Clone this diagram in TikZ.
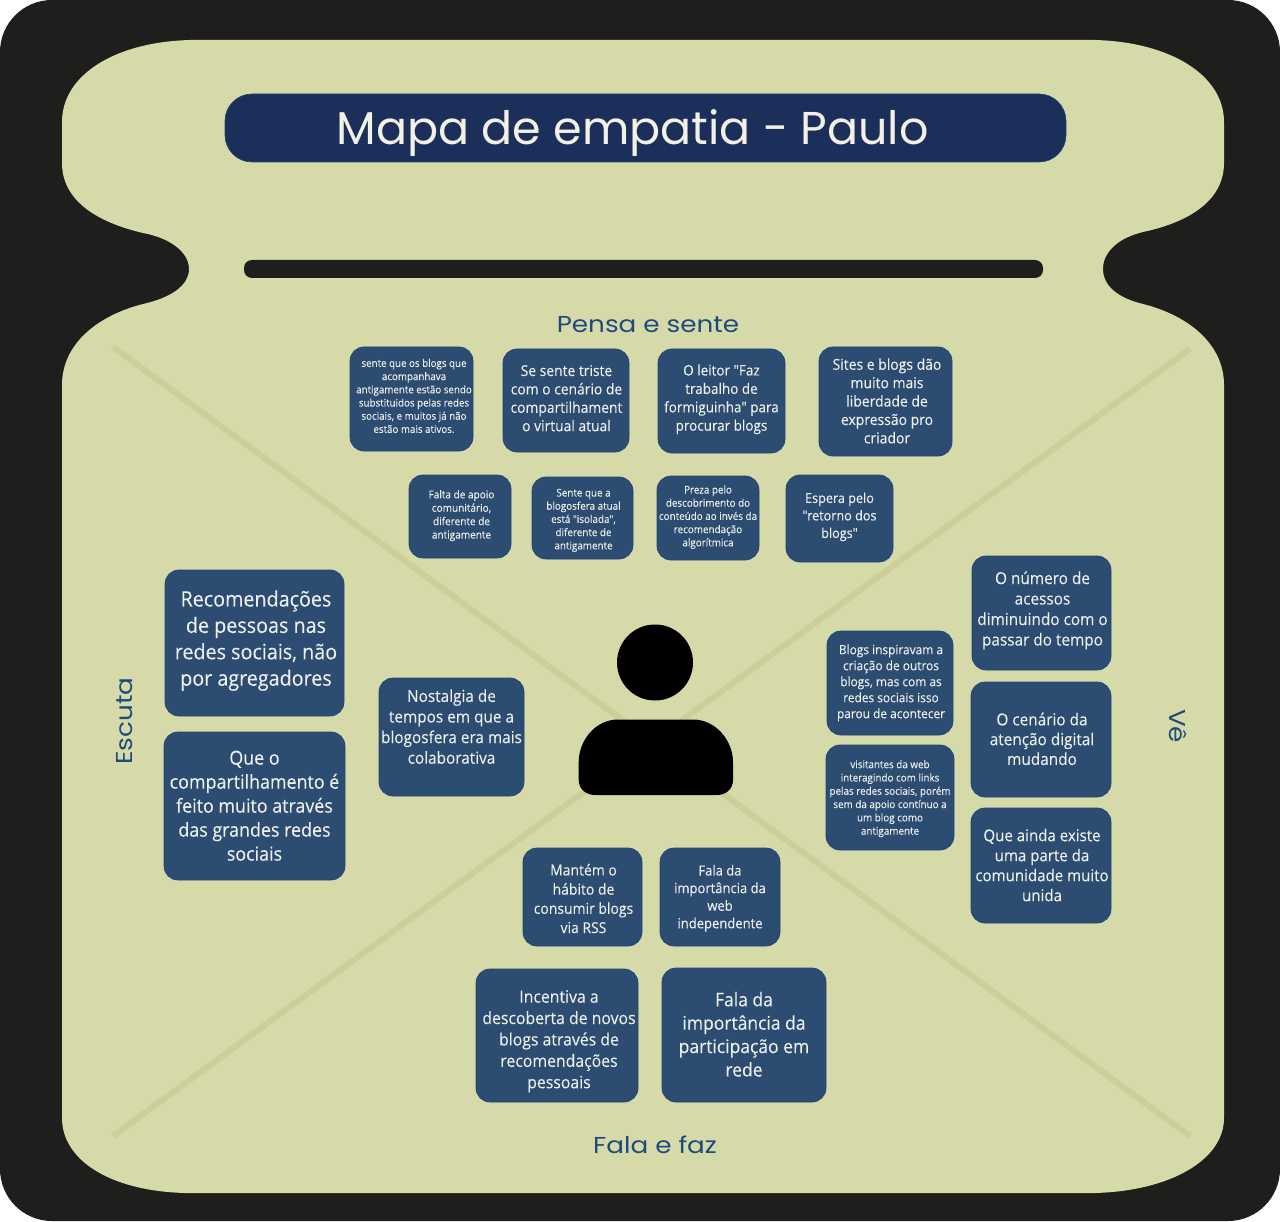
\documentclass[tikz,border=0pt]{standalone}
\usepackage{fontspec}
\setmainfont[FakeStretch=0.93,FakeBold=0.12,Ligatures=TeXOff]{Open Sans}
\newfontfamily\headfont{Poppins}
\newfontfamily\sectfont[FakeStretch=1.14]{Poppins}
\definecolor{frameblack}{HTML}{1E1E1C}
\definecolor{paper}{HTML}{D6DAA8}
\definecolor{diag}{HTML}{CDCE98}
\definecolor{cardblue}{HTML}{2C4C72}
\definecolor{cardedge}{HTML}{1F4477}
\definecolor{titleblue}{HTML}{1C2F5A}
\definecolor{labelblue}{HTML}{1F4A80}
\definecolor{titletext}{HTML}{F3F0E6}
\definecolor{cardtext}{HTML}{EDEFEA}
\tikzset{
  cardbox/.style={draw=cardedge,line width=0.7pt,fill=cardblue,rounded corners=14pt,inner sep=0pt,text=cardtext},
  headlabel/.style={text=labelblue,inner sep=0pt,font=\sectfont\fontsize{23}{27}\selectfont},
  diagline/.style={draw=diag,line width=6pt},
}
% \cdx: sideways offset of the text, doubled because the node centres it
\newcommand{\cdx}{0}
% name, x0, y0, x1, y1, size, leading, dy (up), text
\newcommand{\cardat}[9]{%
  \pgfmathsetmacro{\cw}{#4-#2}\pgfmathsetmacro{\ch}{#5-#3}%
  \pgfmathsetmacro{\cx}{(#2+#4)/2}\pgfmathsetmacro{\cy}{(#3+#5)/2}%
  \node[cardbox,minimum width=\cw pt,minimum height=\ch pt,font=\fontsize{#6}{#7}\selectfont] (#1) at (\cx,\cy)
    {\hspace*{\cdx pt}\raisebox{\dimexpr #8pt+1pt\relax}[0pt][0pt]{\begin{tabular}{@{}c@{}}#9\end{tabular}}};%
}
\begin{document}
\begin{tikzpicture}[x=1pt,y=-1pt]
\useasboundingbox (0,0) rectangle (1280,1222);
\fill[frameblack,rounded corners=52pt] (0,0) rectangle (1280,1221);
% sheet
\fill[paper] (190,40) -- (1095,40)
  .. controls (1170,42) and (1224,75) .. (1224,122)
  -- (1224,163)
  .. controls (1224,200) and (1190,222) .. (1143,232)
  .. controls (1118,238) and (1103,252) .. (1103,269)
  .. controls (1103,286) and (1118,298) .. (1143,304)
  .. controls (1190,316) and (1224,345) .. (1224,385)
  -- (1224,1118)
  .. controls (1224,1160) and (1170,1191) .. (1095,1193)
  -- (185,1193)
  .. controls (110,1191) and (62,1160) .. (62,1118)
  -- (62,385)
  .. controls (62,345) and (96,316) .. (143,304)
  .. controls (170,298) and (189,286) .. (189,269)
  .. controls (189,252) and (170,238) .. (143,233)
  .. controls (96,222) and (62,200) .. (62,163)
  -- (62,122)
  .. controls (62,75) and (115,42) .. (190,40) -- cycle;
% diagonals
\coordinate (tl) at (113,347); \coordinate (br) at (1190,1136);
\coordinate (tr) at (1190,349); \coordinate (bl) at (113,1136);
\draw[diagline] (tl) -- (br);
\draw[diagline] (tr) -- (bl);
% title and bar
\node[draw=cardedge,line width=0.6pt,fill=titleblue,rounded corners=27pt,minimum width=841pt,minimum height=68pt,inner sep=0pt,text=titletext,font=\headfont\fontsize{46}{50}\selectfont] (title) at (645.5,128) {\hspace*{-26pt}\raisebox{-17pt}[0pt][0pt]{Mapa de empatia - Paulo}};
\node[fill=frameblack,rounded corners=8pt,minimum width=799pt,minimum height=18pt,inner sep=0pt] (bar) at (643.5,269) {};
% section labels
\node[headlabel] (pensa) at (648,325) {Pensa e sente};
\node[headlabel] (fala) at (655,1145) {Fala e faz};
\node[headlabel,rotate=90] (escuta) at (125,721) {Escuta};
\node[headlabel,rotate=-90] (ve) at (1178,726) {Vê};
% person
\node[circle,fill=black,minimum size=76pt,inner sep=0pt] (head) at (655,662.5) {};
\fill[black] (618,719.5) -- (693,719.5)
  .. controls (716,719.5) and (733,741) .. (733,762)
  -- (733,780) .. controls (733,789) and (726,795) .. (717,795)
  -- (595,795) .. controls (586,795) and (578.7,789) .. (578.7,780)
  -- (578.7,762) .. controls (578.7,741) and (595,719.5) .. (618,719.5) -- cycle;
% Pensa e sente
\renewcommand{\cdx}{5}
\cardat{p1}{350}{347}{473}{451}{10.5}{13.2}{-2}{sente que os blogs que\\acompanhava\\antigamente estão sendo\\substituidos pelas redes\\sociais, e muitos já não\\estão mais ativos.}
\renewcommand{\cdx}{1}
\cardat{p2}{503}{349}{629}{452}{14.9}{18.4}{-4}{Se sente triste\\com o cenário de\\compartilhament\\o virtual atual}
\renewcommand{\cdx}{0}
\cardat{p3}{658}{349}{785}{453}{14.5}{18.4}{-3}{O leitor "Faz\\trabalho de\\formiguinha" para\\procurar blogs}
\renewcommand{\cdx}{3}
\cardat{p4}{819}{347}{952}{456}{15}{18.4}{-6}{Sites e blogs dão\\muito mais\\liberdade de\\expressão pro\\criador}
\cardat{p5}{409}{475}{511}{558}{10.8}{13.4}{-3}{Falta de apoio\\comunitário,\\diferente de\\antigamente}
\renewcommand{\cdx}{2}
\cardat{p6}{532}{477}{633}{559}{10.6}{13.2}{-6}{Sente que a\\blogosfera atual\\está "isolada",\\diferente de\\antigamente}
\renewcommand{\cdx}{0}
\cardat{p7}{657}{476}{759}{560}{10.6}{13.2}{-3}{Preza pelo\\descobrimento do\\conteúdo ao invés da\\recomendação\\algorítmica}
\cardat{p8}{786}{475}{893}{562}{13.6}{17.5}{-3}{Espera pelo\\"retorno dos\\blogs"}
% Ve
\renewcommand{\cdx}{2}
\cardat{v1}{972}{556}{1111}{670}{16.5}{20.5}{-3}{O número de\\acessos\\diminuindo com o\\passar do tempo}
\cardat{v2}{971}{682}{1111}{797}{16.5}{19.8}{-7}{O cenário da\\atenção digital\\mudando}
\cardat{v3}{971}{808}{1111}{923}{16.2}{20}{-7}{Que ainda existe\\uma parte da\\comunidade muito\\unida}
\cardat{v4}{827}{631}{953}{735}{12.8}{16}{-4}{Blogs inspiravam a\\criação de outros\\blogs, mas com as\\redes sociais isso\\parou de acontecer}
\renewcommand{\cdx}{0}
\cardat{v5}{826}{745}{954}{850}{10.6}{13.3}{-5}{visitantes da web\\interagindo com links\\pelas redes sociais, porém\\sem da apoio contínuo a\\um blog como\\antigamente}
% Escuta
\renewcommand{\cdx}{3}
\cardat{e1}{165}{570}{344}{716}{21.2}{26.4}{-4}{Recomendações\\de pessoas nas\\redes sociais, não\\por agregadores}
\renewcommand{\cdx}{0}
\cardat{e2}{164}{732}{345}{880}{19.2}{24}{-8}{Que o\\compartilhamento é\\feito muito através\\das grandes redes\\sociais}
\cardat{e3}{379}{678}{524}{796}{16.5}{20.6}{3}{Nostalgia de\\tempos em que a\\blogosfera era mais\\colaborativa}
% Fala e faz
\renewcommand{\cdx}{2}
\cardat{f1}{523}{848}{642}{946}{15}{19.2}{-8}{Mantém o\\hábito de\\consumir blogs\\via RSS}
\renewcommand{\cdx}{0}
\cardat{f2}{660}{848}{780}{946}{14}{17.6}{-6}{Fala da\\importância da\\web\\independente}
\renewcommand{\cdx}{4}
\cardat{f3}{476}{969}{638}{1102}{17}{21.4}{-11}{Incentiva a\\descoberta de novos\\blogs através de\\recomendações\\pessoais}
\renewcommand{\cdx}{0}
\cardat{f4}{662}{968}{826}{1102}{18.8}{23.4}{-7}{Fala da\\importância da\\participação em\\rede}
\end{tikzpicture}
\end{document}
